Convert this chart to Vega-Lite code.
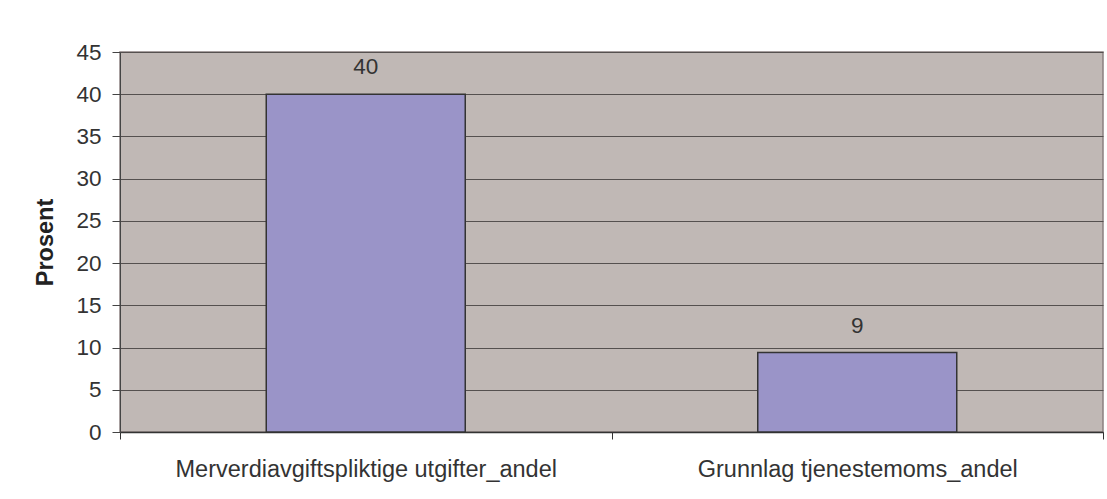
{
  "$schema": "https://vega.github.io/schema/vega-lite/v6.json",
  "width": 983,
  "height": 380,
  "autosize": {"type": "none"},
  "padding": {"left": 120, "top": 52, "right": 4, "bottom": 67},
  "background": "#ffffff",
  "config": {
    "font": "Liberation Sans",
    "view": {"fill": "#c0b8b5", "stroke": "#8a8080", "strokeWidth": 1.5}
  },
  "data": {
    "values": [
      {"kategori": "Merverdiavgiftspliktige utgifter_andel", "prosent": 40},
      {"kategori": "Grunnlag tjenestemoms_andel", "prosent": 9.4}
    ]
  },
  "encoding": {
    "x": {
      "field": "kategori",
      "type": "nominal",
      "sort": null,
      "scale": {"paddingInner": 0, "paddingOuter": 0},
      "axis": {
        "title": null,
        "labelAngle": 0,
        "labelFontSize": 23.5,
        "labelLimit": 0,
        "labelColor": "#333333",
        "labelPadding": 18,
        "tickBand": "extent",
        "tickSize": 7,
        "tickColor": "#333333",
        "domainColor": "#333333",
        "domainWidth": 1.5,
        "grid": false
      }
    },
    "y": {
      "field": "prosent",
      "type": "quantitative",
      "scale": {"domain": [0, 45], "nice": false},
      "axis": {
        "title": "Prosent",
        "titleFontSize": 23.5,
        "titleFontWeight": "bold",
        "titleColor": "#222222",
        "titlePadding": 18,
        "values": [0, 5, 10, 15, 20, 25, 30, 35, 40, 45],
        "labelFontSize": 22.5,
        "labelColor": "#333333",
        "labelPadding": 11,
        "tickSize": 8,
        "tickColor": "#444444",
        "domainColor": "#444444",
        "gridColor": "#55504f",
        "gridWidth": 1,
        "gridOpacity": 1
      }
    }
  },
  "layer": [
    {
      "mark": {"type": "bar", "size": 199, "fill": "#9a94c8", "stroke": "#333333", "strokeWidth": 1.5}
    },
    {
      "mark": {"type": "text", "fontSize": 22.5, "color": "#333333", "baseline": "middle", "dy": -27},
      "encoding": {"text": {"field": "prosent", "type": "quantitative", "format": ".0f"}}
    }
  ]
}
